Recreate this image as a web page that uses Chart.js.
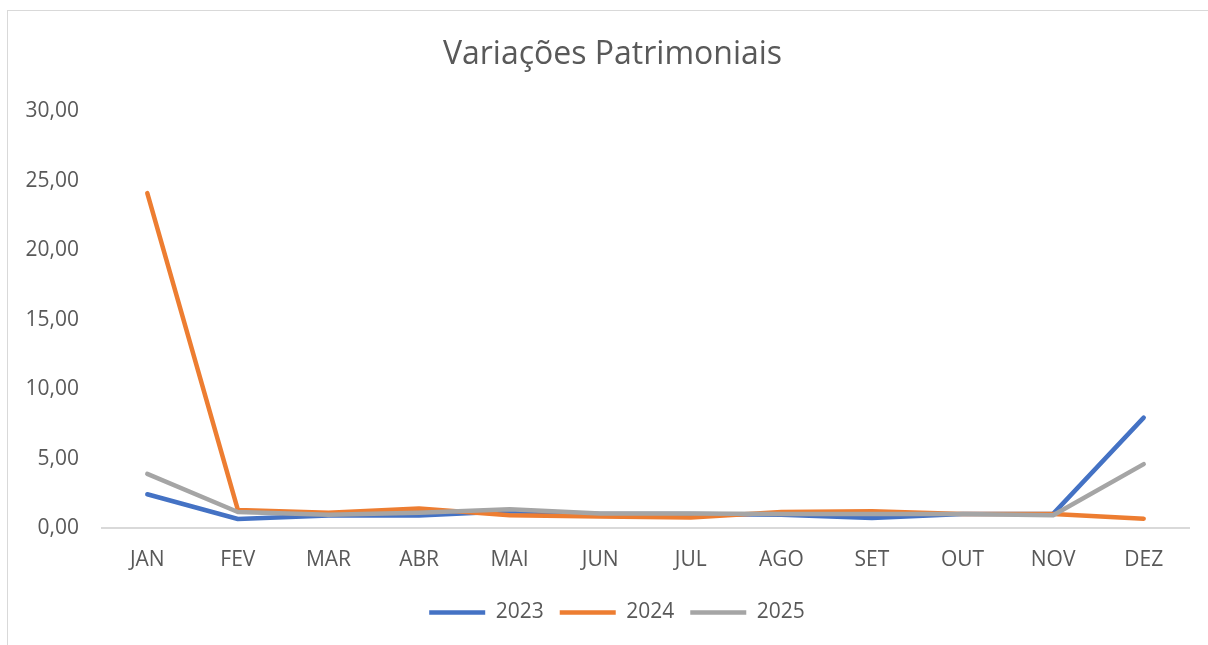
<!DOCTYPE html>
<html>
<head>
<meta charset="utf-8">
<script src="https://cdn.jsdelivr.net/npm/chart.js@4/dist/chart.umd.min.js"></script>
<style>
  html, body { margin: 0; padding: 0; background: #fff; }
  #wrap { position: relative; width: 1208px; height: 645px; overflow: hidden; }
  #frame { position: absolute; left: 7px; top: 10px; width: 1220px; height: 660px; border: 1px solid #d9d9d9; box-sizing: border-box; }
  #chart { position: absolute; left: 0; top: 0; }
</style>
</head>
<body>
<div id="wrap">
  <div id="frame"></div>
  <canvas id="chart" width="1208" height="645"></canvas>
</div>
<script>
// ── données ───────────────────────────────────────────
const months = ['JAN', 'FEV', 'MAR', 'ABR', 'MAI', 'JUN', 'JUL', 'AGO', 'SET', 'OUT', 'NOV', 'DEZ'];
const v2023 = [2.43, 0.65, 0.90, 0.90, 1.20, 1.00, 1.00, 0.95, 0.72, 1.00, 1.02, 7.95];
const v2024 = [24.12, 1.30, 1.10, 1.40, 0.92, 0.82, 0.75, 1.15, 1.20, 1.00, 1.00, 0.67];
const v2025 = [3.90, 1.15, 0.95, 1.10, 1.35, 1.05, 1.05, 1.00, 1.00, 1.00, 0.92, 4.60];
const yTicks = [0, 5, 10, 15, 20, 25, 30];

const txtColor = '#595959';
const fontFam = '"Open Sans", "Liberation Sans", sans-serif';

function serie(label, data, color, order) {
  return {
    label, data, order,
    borderColor: color,
    backgroundColor: color,
    borderWidth: 4.5,
    borderCapStyle: 'round',
    borderJoinStyle: 'round',
    pointRadius: 0,
    pointHoverRadius: 0,
    tension: 0,
    fill: false
  };
}

// recentre titre et légende comme dans Excel (centrés sur la zone du graphique)
const shiftBlocks = {
  id: 'shiftBlocks',
  afterLayout(chart) {
    if (chart.titleBlock) chart.titleBlock.left += 36;
    if (chart.legend) chart.legend.left += 45;
  }
};

new Chart(document.getElementById('chart'), {
  type: 'line',
  data: {
    labels: months,
    datasets: [
      serie('2023', v2023, '#4472C4', 2),
      serie('2024', v2024, '#ED7D31', 1),
      serie('2025', v2025, '#A5A5A5', 0)
    ]
  },
  plugins: [shiftBlocks],
  options: {
    responsive: false,
    animation: false,
    layout: { padding: { top: 36, right: 19, bottom: 12, left: 0 } },
    plugins: {
      tooltip: { enabled: false },
      title: {
        display: true,
        text: 'Variações Patrimoniais',
        color: txtColor,
        font: { family: fontFam, size: 32, weight: 'normal', lineHeight: 1.2 },
        padding: { top: 0, bottom: 37 }
      },
      legend: {
        position: 'bottom',
        labels: {
          color: txtColor,
          font: { family: fontFam, size: 21 },
          usePointStyle: true,
          pointStyle: 'line',
          pointStyleWidth: 56,
          padding: 16,
          sort: (a, b) => a.datasetIndex - b.datasetIndex
        }
      }
    },
    scales: {
      x: {
        offset: true,
        grid: { display: false, drawTicks: false, offset: true },
        border: { display: true, color: '#d9d9d9', width: 2 },
        ticks: { color: txtColor, font: { family: fontFam, size: 21 }, padding: 19, maxRotation: 0 },
        afterFit: s => { s.height = 58; }
      },
      y: {
        min: 0, max: 30,
        afterBuildTicks: s => { s.ticks = yTicks.map(v => ({ value: v })); },
        grid: { display: false, drawTicks: false },
        border: { display: false },
        ticks: {
          color: txtColor,
          font: { family: fontFam, size: 21 },
          padding: 23,
          callback: v => v.toFixed(2).replace('.', ',')
        },
        afterFit: s => { s.width = 102; }
      }
    }
  }
});
</script>
</body>
</html>
